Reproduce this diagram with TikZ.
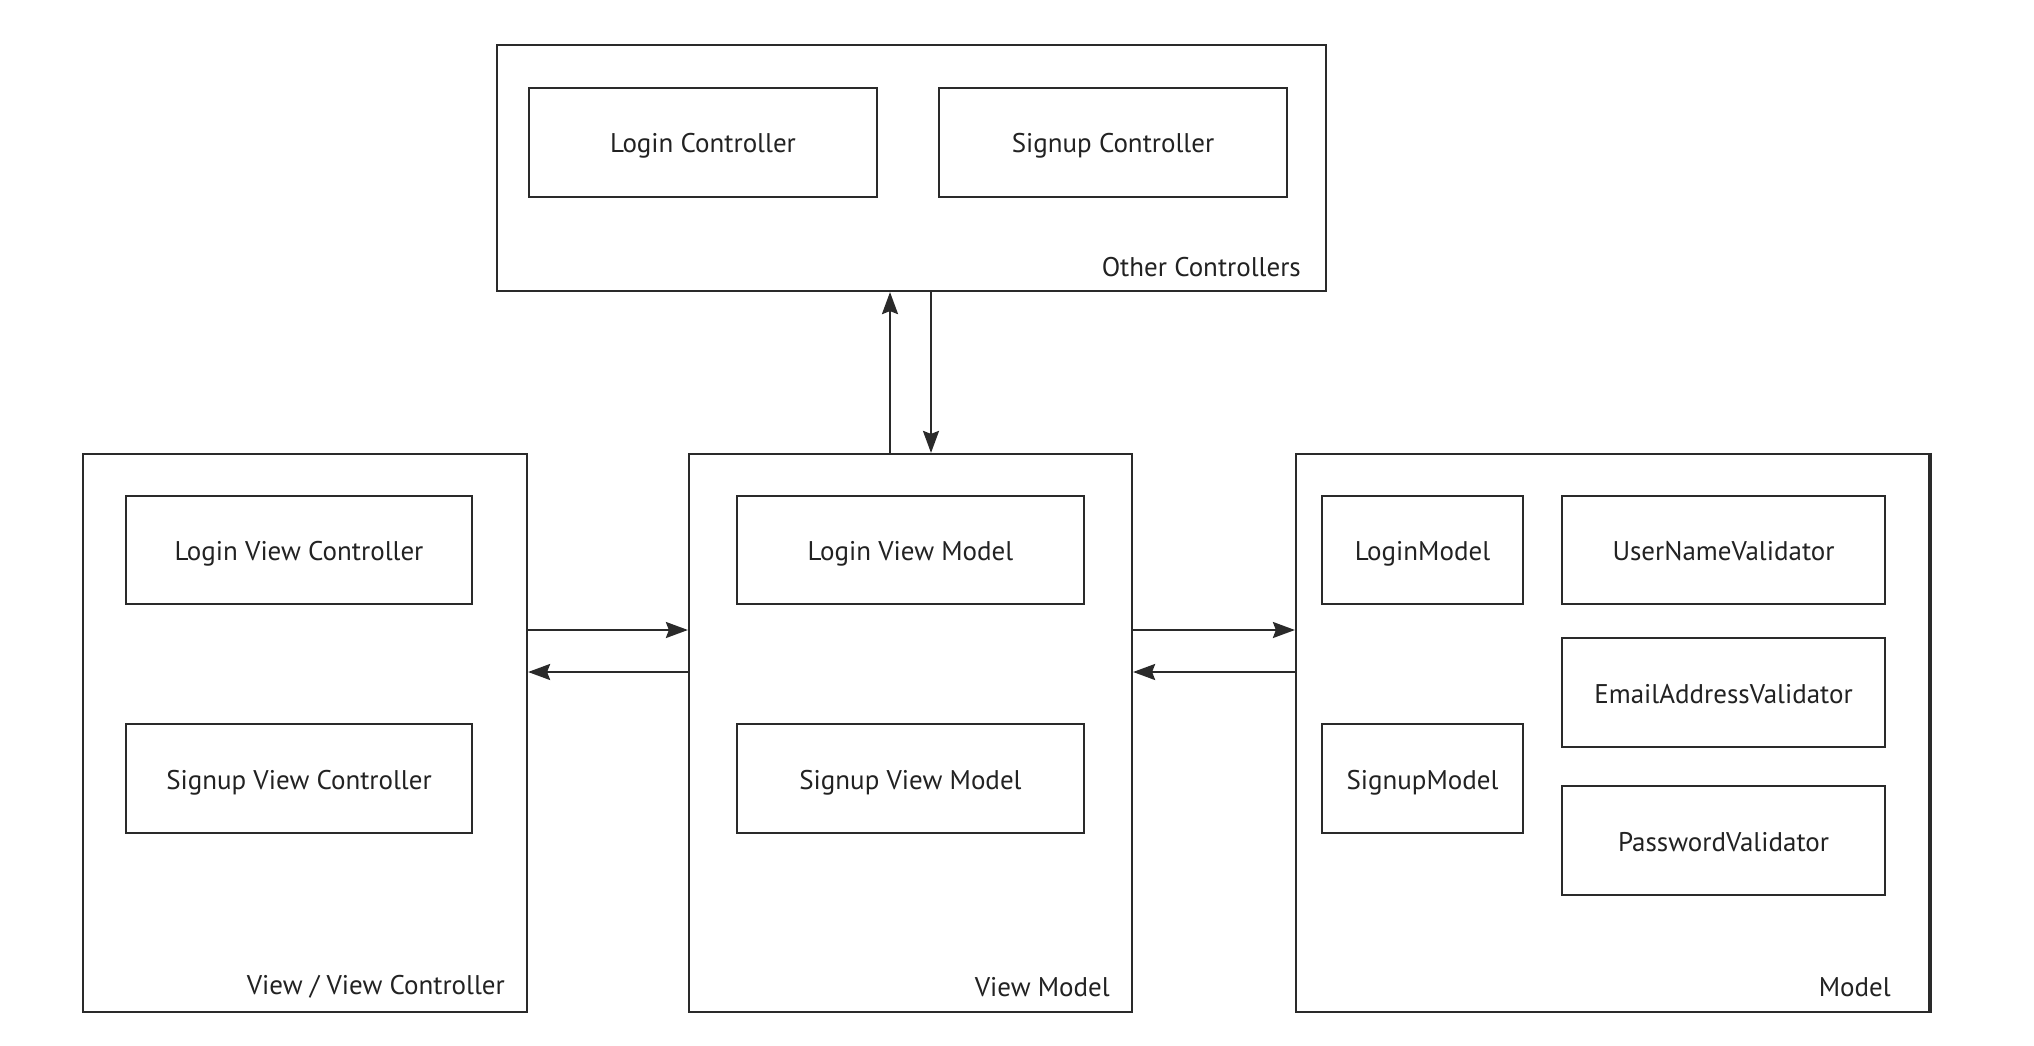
\documentclass[tikz,border=0pt]{standalone}
\usepackage{fontspec}
\setmainfont{PT Sans}
\usetikzlibrary{arrows.meta}
\definecolor{ink}{HTML}{2A2A2A}
\definecolor{txt}{HTML}{222222}
\tikzset{
  box/.style={draw=ink, line width=2.2pt, rectangle, inner sep=0pt, text=txt,
    text height=21pt, text depth=0pt, font=\fontsize{27}{31}\selectfont},
  cont/.style={draw=ink, line width=2.2pt, rectangle, inner sep=0pt},
  lbl/.style={anchor=east, inner sep=0pt, text=txt, font=\fontsize{27}{31}\selectfont},
  arr/.style={draw=ink, line width=2.2pt, -{Stealth[length=22pt,width=16pt,inset=3pt]}}
}
\begin{document}
\begin{tikzpicture}[x=1pt,y=-1pt]
\useasboundingbox[fill=white] (0,0) rectangle (2034,1046);
% containers
\node[cont, minimum width=829pt, minimum height=246pt] (top) at (911.5,168) {};
\node[cont, minimum width=444pt, minimum height=558pt] (left) at (305,733) {};
\node[cont, minimum width=443pt, minimum height=558pt] (mid) at (910.5,733) {};
\node[cont, minimum width=634pt, minimum height=558pt] (right) at (1613,733) {};
\draw[ink, line width=4pt] ([xshift=-1pt]right.north east) -- ([xshift=-1pt]right.south east);
% labels
\node[lbl] (ltop) at (1301,267) {Other Controllers};
\node[lbl] (lleft) at (505,987) {View / View Controller};
\node[lbl] (lmid) at (1110,987) {View Model};
\node[lbl] (lright) at (1891,987) {Model};
% inner boxes
\node[box, minimum width=348pt, minimum height=109pt] (lc) at (703,142.5) {Login Controller};
\node[box, minimum width=348pt, minimum height=109pt] (sc) at (1113,142.5) {Signup Controller};
\node[box, minimum width=346pt, minimum height=108pt] (lvc) at (299,550) {Login View Controller};
\node[box, minimum width=346pt, minimum height=109pt] (svc) at (299,778.5) {Signup View Controller};
\node[box, minimum width=347pt, minimum height=108pt] (lvm) at (910.5,550) {Login View Model};
\node[box, minimum width=347pt, minimum height=109pt] (svm) at (910.5,778.5) {Signup View Model};
\node[box, minimum width=201pt, minimum height=108pt] (lm) at (1422.5,550) {LoginModel};
\node[box, minimum width=201pt, minimum height=109pt] (sm) at (1422.5,778.5) {SignupModel};
\node[box, minimum width=323pt, minimum height=108pt] (unv) at (1723.5,550) {UserNameValidator};
\node[box, minimum width=323pt, minimum height=109pt] (eav) at (1723.5,692.5) {EmailAddressValidator};
\node[box, minimum width=323pt, minimum height=109pt] (pv) at (1723.5,840.5) {PasswordValidator};
% connectors
\draw[arr] ([xshift=-20.5pt]mid.north) -- ([xshift=-20.5pt]mid.north |- top.south);
\draw[arr] ([xshift=20.5pt]mid.north |- top.south) -- ([xshift=20.5pt]mid.north);
\draw[arr] ([yshift=103pt]left.east) -- ([yshift=103pt]left.east -| mid.west);
\draw[arr] ([yshift=61pt]left.east -| mid.west) -- ([yshift=61pt]left.east);
\draw[arr] ([yshift=103pt]mid.east) -- ([yshift=103pt]mid.east -| right.west);
\draw[arr] ([yshift=61pt]mid.east -| right.west) -- ([yshift=61pt]mid.east);
\end{tikzpicture}
\end{document}
